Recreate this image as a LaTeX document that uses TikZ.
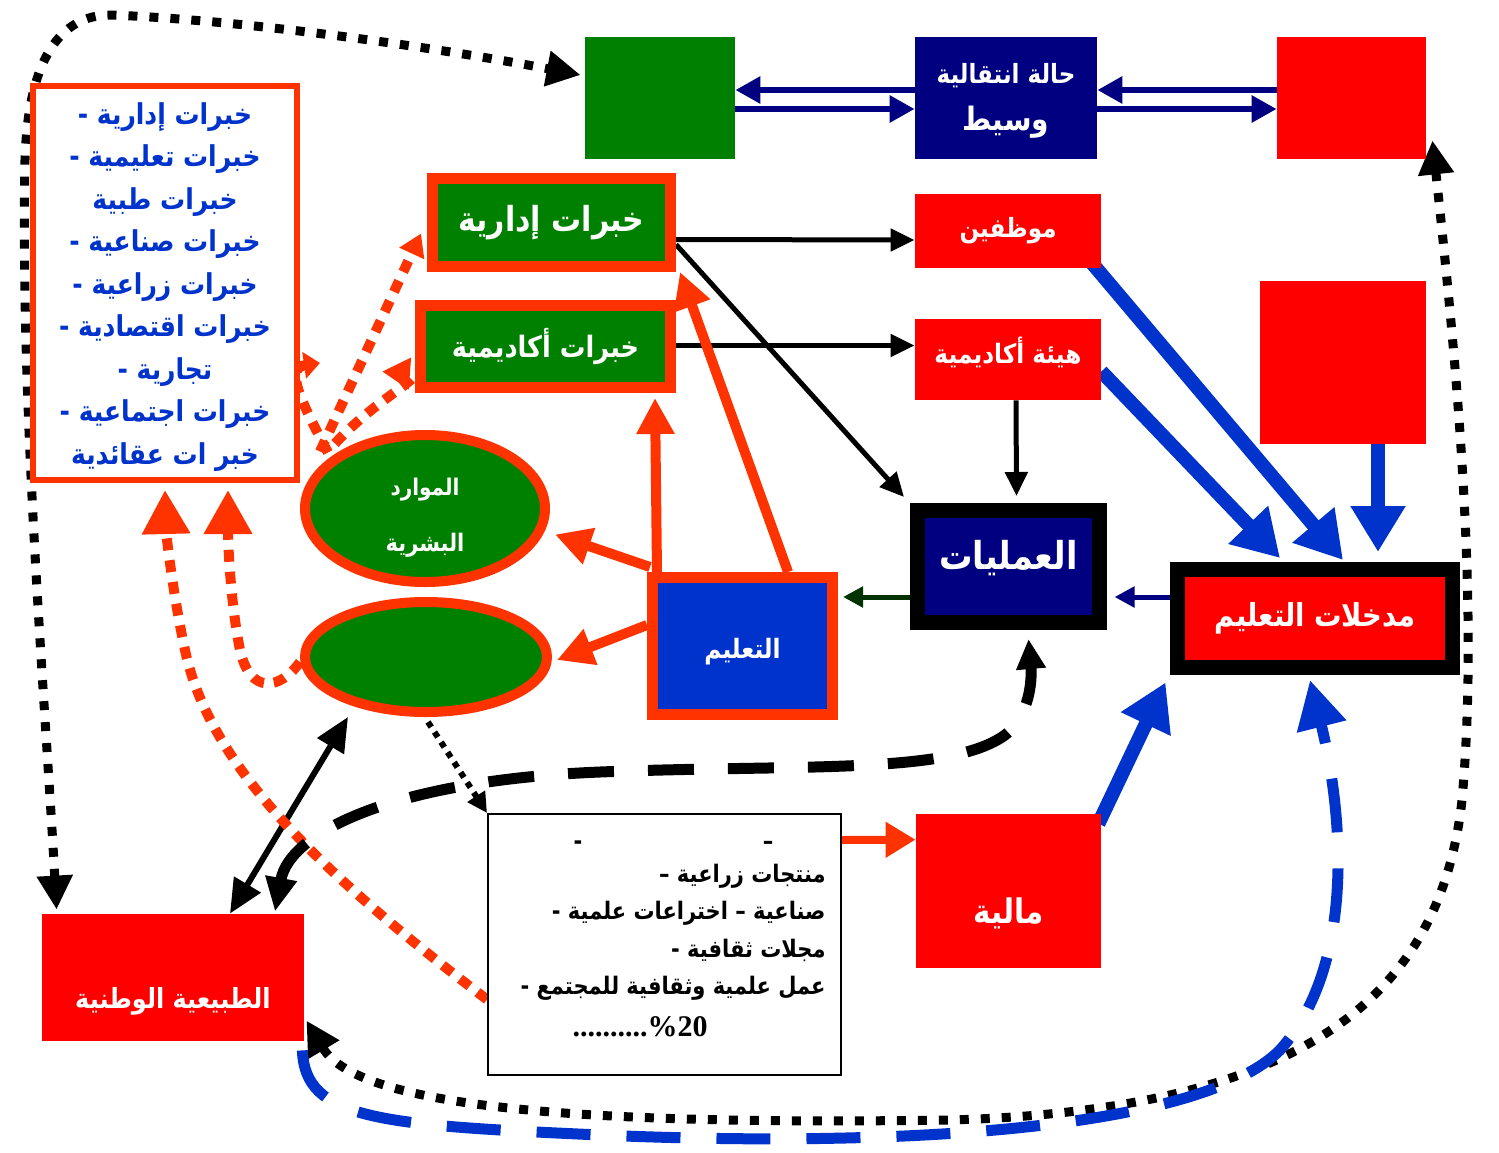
\documentclass[tikz,border=0pt]{standalone}
\usepackage{fontspec}
\usepackage{graphicx}
\TeXXeTstate=1
\newfontfamily\ar[Script=Arabic]{DejaVu Sans}
\newfontfamily\tms{Liberation Serif}
\usetikzlibrary{arrows.meta,calc,shapes.geometric}
\pgfdeclarelayer{bg}
\pgfsetlayers{bg,main}
\definecolor{ored}{HTML}{FF3300}
\definecolor{pred}{HTML}{FF0000}
\definecolor{grn}{HTML}{008000}
\definecolor{nvy}{HTML}{000080}
\definecolor{blu}{HTML}{0033CC}
\definecolor{dgrn}{HTML}{003300}
\newcommand\AR[2]{{\fontsize{#1}{#1}\selectfont\ar\bfseries\scalebox{1}[1.15]{#2}}}
\begin{document}
\begin{tikzpicture}[x=0.5pt,y=-0.5pt,
  rect/.style={rectangle,inner sep=0pt},
  wt/.style={text=white},
  blkarr/.style={draw=black,line width=2.5pt,-{Triangle[length=12pt,width=11pt]}},
  navarr/.style={draw=nvy,line width=3pt,-{Triangle[length=12.5pt,width=13pt]}},
  bluarr/.style={draw=blu,line width=7pt,-{Triangle[length=23pt,width=26pt]}},
  redarr/.style={draw=ored,line width=5pt,-{Triangle[length=18pt,width=18pt]}},
  reddot/.style={draw=ored,line width=5pt,dash pattern=on 6pt off 5pt},
  blkdot/.style={draw=black,line width=4.5pt,dash pattern=on 4.5pt off 6pt},
  blkdash/.style={draw=black,line width=5.5pt,dash pattern=on 23pt off 17pt},
  bludash/.style={draw=blu,line width=5.5pt,dash pattern=on 27pt off 18pt},
  bigtip/.tip={Triangle[length=17pt,width=17pt]}
]
\useasboundingbox (0,0) rectangle (1499,1152);

% ---------- nodes ----------
\node[rect,fill=grn,minimum width=75pt,minimum height=61pt] (gtop) at (660,98) {};
\node[rect,fill=nvy,minimum width=91pt,minimum height=61pt,
  label={[name=midt,text=white,align=center,yshift=-1.5pt]center:\AR{11.5}{\beginR حالة انتقالية\endR}\\[8pt]\AR{14}{\beginR وسيط\endR}}] (mid) at (1006,98) {};
\node[rect,fill=pred,minimum width=74.5pt,minimum height=61pt] (rtop) at (1351.5,98) {};

\node[rect,draw=ored,line width=3pt,fill=white,minimum width=132pt,minimum height=197pt,
  label={[name=lboxt,text=blu,align=center,yshift=-2pt,font={\ar\bfseries\fontsize{12.5}{21.25}\selectfont}]center:
   \scalebox{1}[1.15]{\beginR خبرات إدارية -\endR}\\
   \scalebox{1}[1.15]{\beginR خبرات تعليمية -\endR}\\
   \scalebox{1}[1.15]{\beginR خبرات طبية\endR}\\
   \scalebox{1}[1.15]{\beginR خبرات صناعية -\endR}\\
   \scalebox{1}[1.15]{\beginR خبرات زراعية -\endR}\\
   \scalebox{1}[1.15]{\beginR خبرات اقتصادية -\endR}\\
   \scalebox{1}[1.15]{\beginR تجارية -\endR}\\
   \scalebox{1}[1.15]{\beginR خبرات اجتماعية -\endR}\\
   \scalebox{1}[1.15]{\beginR خبر ات عقائدية\endR}}] (lbox) at (165,283) {};

\node[rect,draw=ored,line width=5.5pt,fill=grn,minimum width=119pt,minimum height=44pt,wt] (idar) at (551.5,222.5) {\AR{15}{\beginR خبرات إدارية\endR}};
\node[rect,draw=ored,line width=5.5pt,fill=grn,minimum width=125pt,minimum height=41pt,wt] (akad) at (545.5,346.5) {\AR{12.8}{\beginR خبرات أكاديمية\endR}};

\node[rect,fill=pred,minimum width=93pt,minimum height=37pt,wt] (moz) at (1008,231) {\AR{11.5}{\beginR موظفين\endR}};
\node[rect,fill=pred,minimum width=93pt,minimum height=40.5pt,
  label={[name=hayt,text=white,yshift=3.5pt]center:\AR{11.6}{\beginR هيئة أكاديمية\endR}}] (hay) at (1008,359.5) {};
\node[rect,fill=pred,minimum width=83pt,minimum height=81.5pt] (rmid) at (1343,362.5) {};

\node[ellipse,inner sep=0pt,draw=ored,line width=5pt,fill=grn,minimum width=120pt,minimum height=73.5pt,
  label={[name=ell1t,text=white,align=center,yshift=-4.5pt]center:\AR{10}{\beginR الموارد\endR}\\[16pt]\AR{10.5}{\beginR البشرية\endR}}] (ell1) at (425,508.5) {};
\node[ellipse,inner sep=0pt,draw=ored,line width=5pt,fill=grn,minimum width=121pt,minimum height=55pt] (ell2) at (426,657) {};

\node[rect,draw=ored,line width=5.5pt,fill=blu,minimum width=90pt,minimum height=68.5pt,
  label={[name=edut,text=white,yshift=-3pt]center:\AR{11.6}{\beginR التعليم\endR}}] (edu) at (742.5,646) {};
\node[rect,draw=black,line width=7.5pt,fill=nvy,minimum width=91pt,minimum height=56pt,
  label={[name=opst,text=white,yshift=4pt]center:\AR{16.7}{\beginR العمليات\endR}}] (ops) at (1008.5,566.5) {};
\node[rect,draw=black,line width=7.5pt,fill=pred,minimum width=137.5pt,minimum height=49pt,wt] (inp) at (1315,618.5) {\AR{13.7}{\beginR مدخلات التعليم\endR}};

\node[rect,draw=black,line width=1pt,fill=white,minimum width=176.5pt,minimum height=130.5pt] (txt) at (664.5,944.5) {};
\node[rect] (tl0a) at (578,845) {\AR{10.5}{-}};
\node[rect] (tl0b) at (768,845) {\AR{10.5}{–}};
\node[rect,anchor=east] (tl1) at (826,876) {\AR{10.5}{\beginR منتجات زراعية –\endR}};
\node[rect,anchor=east] (tl2) at (826,913) {\AR{10.5}{\beginR صناعية – اختراعات علمية -\endR}};
\node[rect,anchor=east] (tl3) at (826,950) {\AR{10.5}{\beginR مجلات ثقافية -\endR}};
\node[rect,anchor=east] (tl4) at (826,988) {\AR{10.5}{\beginR عمل علمية وثقافية للمجتمع -\endR}};
\node[rect] (tl5) at (640,1027) {\fontsize{15}{15}\selectfont\tms\bfseries ..........\%20};

\node[rect,fill=pred,minimum width=92.5pt,minimum height=77pt,
  label={[name=malt,text=white,yshift=-11pt]center:\AR{14.7}{\beginR مالية\endR}}] (mal) at (1008.5,891) {};
\node[rect,fill=pred,minimum width=131pt,minimum height=63.5pt,
  label={[name=natt,text=white,yshift=-12pt]center:\AR{12}{\beginR الطبيعية الوطنية\endR}}] (nat) at (173,977.5) {};

% ---------- connectors ----------
\begin{pgfonlayer}{bg}
% top navy double links
\draw[navarr] ($(mid.west)+(0,-8)$) -- ($(gtop.east)+(0,-8)$);
\draw[navarr] ($(gtop.east)+(0,11)$) -- ($(mid.west)+(0,11)$);
\draw[navarr] ($(rtop.west)+(0,-8)$) -- ($(mid.east)+(0,-8)$);
\draw[navarr] ($(mid.east)+(0,11)$) -- ($(rtop.west)+(0,11)$);

% black arrows
\draw[blkarr] ($(idar.east)+(0,17)$) -- ($(moz.west)+(0,9)$);
\draw[blkarr] ($(akad.east)+(0,-1)$) -- ($(hay.west)+(0,-14)$);
\draw[blkarr] ($(idar.east)+(0,22)$) -- ($(ops.north west)+(-6,-6)$);
\draw[blkarr] ($(hay.south)+(8,0)$) -- ($(ops.north)+(8,-7)$);
\draw[draw=dgrn,line width=2.5pt,-{Triangle[length=10pt,width=10pt]}] ($(ops.west)+(0,30.5)$) -- ($(edu.east)+(5,-49)$);
\draw[draw=nvy,line width=2.5pt,-{Triangle[length=10pt,width=10pt]}] ($(inp.west)+(0,-21.5)$) -- ($(ops.east)+(7.5,30.5)$);

% blue thick arrows
\draw[bluarr] ($(moz.south east)+(-10,-6)$) -- ($(inp.north)+(28,-2)$);
\draw[bluarr] ($(hay.east)+(0,12)$) -- ($(inp.north)+(-35,-4)$);
\draw[bluarr] ($(rmid.south)+(35,0)$) -- ($(inp.north)+(63,-10)$);
\draw[bluarr] ($(mal.north east)+(-3,10)$) -- ($(inp.south west)+(-4.5,7.5)$);

% red arrows from education
\draw[redarr] ($(edu.north west)+(3,-5)$) -- ($(ell1.east)+(5,26)$);
\draw[redarr] ($(edu.west)+(0,-21)$) -- ($(ell2.east)+(5,3)$);
\draw[redarr] ($(edu.north west)+(10,0)$) -- ($(akad.south)+(109.5,5)$);
\draw[redarr] ($(edu.north east)+(-50,0)$) -- ($(idar.south east)+(4,0)$);
\draw[draw=ored,line width=4pt,-{Triangle[length=15pt,width=17pt]}] ($(txt.north east)+(0,27)$) -- ($(mal.north west)+(0,26)$);

% black solid double arrow and thin dotted arrow
\draw[line width=3pt,{Triangle[length=17pt,width=15pt]}-{Triangle[length=17pt,width=15pt]}] ($(ell2.center)+(-78,60)$) -- ($(nat.north)+(57,0)$);
\draw[line width=3pt,dash pattern=on 3pt off 3pt,-{Triangle[length=10pt,width=10pt]}] ($(ell2.south)+(2,5)$) -- (txt.north west);

% red dotted arrows
\draw[reddot,-{Triangle[length=11pt,width=13pt]}] ($(ell1.center)+(-105,-57)$) -- ($(idar.west)+(-6,11)$);
\draw[reddot,-{Triangle[length=14pt,width=15pt]}] ($(ell1.center)+(-90,-65)$) .. controls (380,395) and (430,375) .. ($(akad.west)+(-33,25)$);
\draw[reddot,-{Triangle[length=8pt,width=13pt]}] ($(ell1.center)+(-97,-56)$) .. controls (300,400) and (285,368) .. ($(lbox.east)+(20,80)$);
\draw[reddot,-{Triangle[length=22pt,width=23pt]}] ($(ell2.west)+(0,5)$) .. controls (280,690) and (250,695) .. (240,650) .. controls (230,600) and (228,540) .. ($(lbox.south)+(63,7)$);
\draw[reddot,-{Triangle[length=22pt,width=23pt]}] ($(txt.west)+(0,55)$) .. controls (330,880) and (210,770) .. (185,650) .. controls (172,590) and (166,530) .. ($(lbox.south)+(0,7)$);

% black dashed double arrow
\draw[blkdash,{Triangle[length=17pt,width=15pt]}-{Triangle[length=15pt,width=14pt]}] ($(nat.north)+(102,-2)$) .. controls (290,830) and (400,780) .. (600,772) .. controls (800,764) and (950,775) .. (1005,735) .. controls (1030,715) and (1032,680) .. ($(ops.south)+(20,9)$);

% black dotted loops
\draw[blkdot,bigtip-bigtip] ($(nat.north west)+(15,-4)$) .. controls (45,700) and (20,400) .. (25,160) .. controls (28,60) and (60,15) .. (110,15) .. controls (250,20) and (450,50) .. ($(gtop.west)+(-4,-23)$);
\draw[blkdot,bigtip-bigtip] ($(rtop.south east)+(6,-19)$) .. controls (1455,350) and (1480,600) .. (1462,800) .. controls (1440,1000) and (1300,1110) .. (950,1120) .. controls (600,1125) and (360,1110) .. ($(nat.east)+(2,43)$);

% blue dashed
\draw[bludash,-{Triangle[length=24pt,width=24pt]}] ($(nat.south east)+(-2,9)$) .. controls (305,1120) and (380,1125) .. (600,1135) .. controls (900,1148) and (1200,1130) .. (1280,1050) .. controls (1360,960) and (1340,800) .. ($(inp.south)+(-5,5)$);
\end{pgfonlayer}
\end{tikzpicture}
\end{document}
